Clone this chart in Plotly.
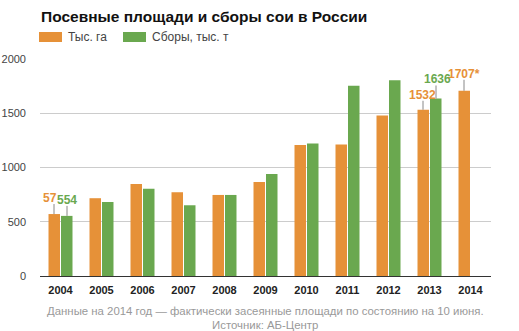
import plotly.graph_objects as go

years = ["2004", "2005", "2006", "2007", "2008", "2009", "2010", "2011", "2012", "2013", "2014"]
area = [571, 717, 847, 772, 747, 867, 1207, 1213, 1479, 1532, 1707]
harvest = [554, 682, 803, 652, 747, 939, 1222, 1753, 1803, 1636, None]
series_names = ["Тыс. га", "Сборы, тыс. т"]
title_text = "Посевные площади и сборы сои в России"
footer_lines = ["Данные на 2014 год — фактически засеянные площади по состоянию на 10 июня.",
                "Источник: АБ-Центр"]
# labels: (year index, series index, text, extra x offset px, y offset px)
labels = [(0, 0, "57", -4, 16), (0, 1, "554", 0, 16), (9, 0, "1532", -1, 15),
          (9, 1, "1636", 1, 19), (10, 0, "1707*", 0, 17)]

ORANGE = "#E69138"
GREEN = "#6AA84F"
FONT = "Liberation Sans, Arial, sans-serif"

W, H = 519, 331
L, R, T, B = 40, 28, 59, 55
pw, ph = W - L - R, H - T - B

def px_x(px):
    return (px - L) / pw

def px_y(py):
    return (H - B - py) / ph

fig = go.Figure()
fig.add_trace(go.Bar(x=years, y=area, name=series_names[0], marker=dict(color=ORANGE, line=dict(width=0))))
fig.add_trace(go.Bar(x=years, y=harvest, name=series_names[1], marker=dict(color=GREEN, line=dict(width=0))))

shapes = []
annotations = []
offsets = [-6.5, 6.5]
colors = [ORANGE, GREEN]
vals = [area, harvest]
for idx, s, txt, dx, dy in labels:
    v = vals[s][idx]
    shapes.append(dict(type="line", xref="x", yref="y", xsizemode="pixel", ysizemode="pixel",
                       xanchor=idx, yanchor=v, x0=offsets[s], x1=offsets[s], y0=0, y1=dy - 6,
                       line=dict(color="#888888", width=1)))
    annotations.append(dict(x=idx, y=v, xref="x", yref="y", text="<b>%s</b>" % txt, showarrow=False,
                            xshift=offsets[s] + dx, yshift=dy, xanchor="center", yanchor="middle",
                            font=dict(family=FONT, size=12, color=colors[s])))

# custom legend
leg = [(39, 62, 66, series_names[0], ORANGE), (123, 146, 150, series_names[1], GREEN)]
for x0, x1, tx, name, c in leg:
    shapes.append(dict(type="rect", xref="paper", yref="paper", x0=px_x(x0), x1=px_x(x1),
                       y0=px_y(42), y1=px_y(32), fillcolor=c, line=dict(width=0)))
    annotations.append(dict(xref="paper", yref="paper", x=px_x(tx), y=px_y(37), text=name,
                            showarrow=False, xanchor="left", yanchor="middle",
                            font=dict(family=FONT, size=12, color="#444444")))

# title
annotations.append(dict(xref="paper", yref="paper", x=px_x(39), y=px_y(17), text="<b>%s</b>" % title_text,
                        showarrow=False, xanchor="left", yanchor="middle",
                        font=dict(family=FONT, size=15.5, color="#111111")))
# footer
annotations.append(dict(xref="paper", yref="paper", x=px_x(265), y=px_y(311), text=footer_lines[0],
                        showarrow=False, xanchor="center", yanchor="middle",
                        font=dict(family=FONT, size=11.4, color="#999999")))
annotations.append(dict(xref="paper", yref="paper", x=px_x(265), y=px_y(325), text=footer_lines[1],
                        showarrow=False, xanchor="center", yanchor="middle",
                        font=dict(family=FONT, size=11.4, color="#999999")))

fig.update_layout(
    width=W, height=H, margin=dict(l=L, r=R, t=T, b=B, autoexpand=False),
    paper_bgcolor="white", plot_bgcolor="white",
    barmode="group", bargap=0.39, bargroupgap=0.08,
    showlegend=False, shapes=shapes, annotations=annotations,
    font=dict(family=FONT),
    xaxis=dict(type="category", tickfont=dict(family=FONT, size=11, color="#222222", weight="bold"),
               showgrid=False, ticks="", showline=False, fixedrange=True, ticklabelstandoff=6,
               automargin=False),
    yaxis=dict(range=[0, 2000], tickvals=[0, 500, 1000, 1500, 2000], showgrid=True, gridcolor="#CCCCCC",
               gridwidth=1, zeroline=True, zerolinecolor="#333333", zerolinewidth=1,
               tickfont=dict(family=FONT, size=11, color="#444444"), ticks="", ticklabelstandoff=13,
               fixedrange=True, automargin=False),
)
fig.write_html("out.html", config={"displayModeBar": False})
